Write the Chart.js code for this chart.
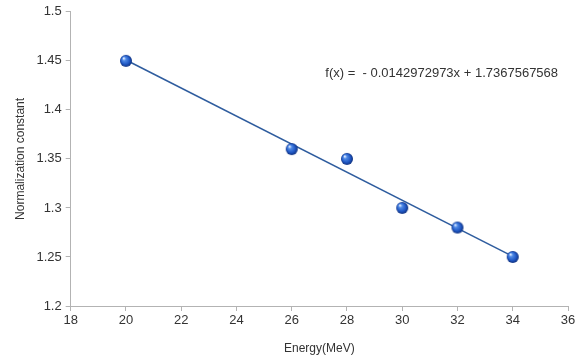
<!DOCTYPE html>
<html lang="en">
<head>
    <meta charset="UTF-8">
    <title>Normalization constant vs Energy</title>
    <script src="https://cdn.jsdelivr.net/npm/chart.js"></script>
    <style>
        html, body { margin: 0; padding: 0; background: #fff; }
        #wrap { width: 584px; height: 360px; }
    </style>
</head>
<body>
    <div id="wrap"><canvas id="normChart" width="584" height="360"></canvas></div>

    <script>
        // measured points
        const energy = [20, 26, 28, 30, 32, 34];
        const normConst = [1.45, 1.36, 1.35, 1.30, 1.28, 1.25];

        // linear fit as printed on the chart
        const slope = -0.0142972973;
        const intercept = 1.7367567568;
        const fitLabel = 'f(x) =  - 0.0142972973x + 1.7367567568';

        const xTicks = [18, 20, 22, 24, 26, 28, 30, 32, 34, 36];
        const yTicks = [1.2, 1.25, 1.3, 1.35, 1.4, 1.45, 1.5];

        const axisGrey = '#b3b3b3';
        const textColor = '#333333';
        const fontFamily = '"Liberation Sans", Arial, sans-serif';

        // small shaded ball used as the marker
        function makeBall(r) {
            const c = document.createElement('canvas');
            c.width = c.height = r * 2 + 2;
            const g = c.getContext('2d');
            const cx = r + 1, cy = r + 1;
            const grad = g.createRadialGradient(cx - r * 0.4, cy - r * 0.45, 0.5, cx, cy, r);
            grad.addColorStop(0, '#dfeaff');
            grad.addColorStop(0.25, '#4f8ae6');
            grad.addColorStop(0.7, '#1f56c2');
            grad.addColorStop(1, '#0d2f7d');
            g.fillStyle = grad;
            g.beginPath();
            g.arc(cx, cy, r, 0, Math.PI * 2);
            g.fill();
            return c;
        }
        const ball = makeBall(6);

        // end points of the fitted line
        const xFirst = energy[0], xLast = energy[energy.length - 1];
        const fitLine = [
            { x: xFirst, y: slope * xFirst + intercept },
            { x: xLast, y: slope * xLast + intercept }
        ];

        const equationText = {
            id: 'equationText',
            afterDraw(chart) {
                const { ctx, chartArea } = chart;
                ctx.save();
                ctx.font = '13px ' + fontFamily;
                ctx.fillStyle = textColor;
                ctx.textBaseline = 'middle';
                ctx.fillText(fitLabel, chartArea.left + (chartArea.right - chartArea.left) * 0.512,
                    chartArea.top + (chartArea.bottom - chartArea.top) * 0.21);
                ctx.restore();
            }
        };

        new Chart(document.getElementById('normChart'), {
            type: 'scatter',
            data: {
                datasets: [
                    {
                        type: 'line',
                        data: fitLine,
                        borderColor: '#2e5c9e',
                        borderWidth: 1.5,
                        pointRadius: 0,
                        fill: false,
                        order: 2
                    },
                    {
                        data: energy.map((e, i) => ({ x: e, y: normConst[i] })),
                        pointStyle: ball,
                        pointRadius: 6,
                        order: 1
                    }
                ]
            },
            options: {
                responsive: false,
                animation: false,
                layout: { padding: { top: 7, right: 16, left: 13, bottom: 4 } },
                plugins: {
                    legend: { display: false },
                    tooltip: { enabled: false }
                },
                scales: {
                    x: {
                        type: 'linear',
                        min: 18,
                        max: 36,
                        afterBuildTicks: axis => { axis.ticks = xTicks.map(v => ({ value: v })); },
                        grid: { drawOnChartArea: false, color: axisGrey, tickLength: 5 },
                        border: { color: axisGrey },
                        ticks: { color: textColor, font: { family: fontFamily, size: 13 }, padding: 2 },
                        title: {
                            display: true,
                            text: 'Energy(MeV)',
                            color: textColor,
                            font: { family: fontFamily, size: 12 },
                            padding: { top: 11, bottom: 0 }
                        }
                    },
                    y: {
                        min: 1.2,
                        max: 1.5,
                        afterBuildTicks: axis => { axis.ticks = yTicks.map(v => ({ value: v })); },
                        grid: { drawOnChartArea: false, color: axisGrey, tickLength: 5 },
                        border: { color: axisGrey },
                        ticks: {
                            color: textColor,
                            font: { family: fontFamily, size: 13 },
                            padding: 4,
                            callback: v => String(+v.toFixed(2))
                        },
                        title: {
                            display: true,
                            text: 'Normalization constant',
                            color: textColor,
                            font: { family: fontFamily, size: 12 },
                            padding: { top: 0, bottom: 5 }
                        }
                    }
                }
            },
            plugins: [equationText]
        });
    </script>
</body>
</html>
